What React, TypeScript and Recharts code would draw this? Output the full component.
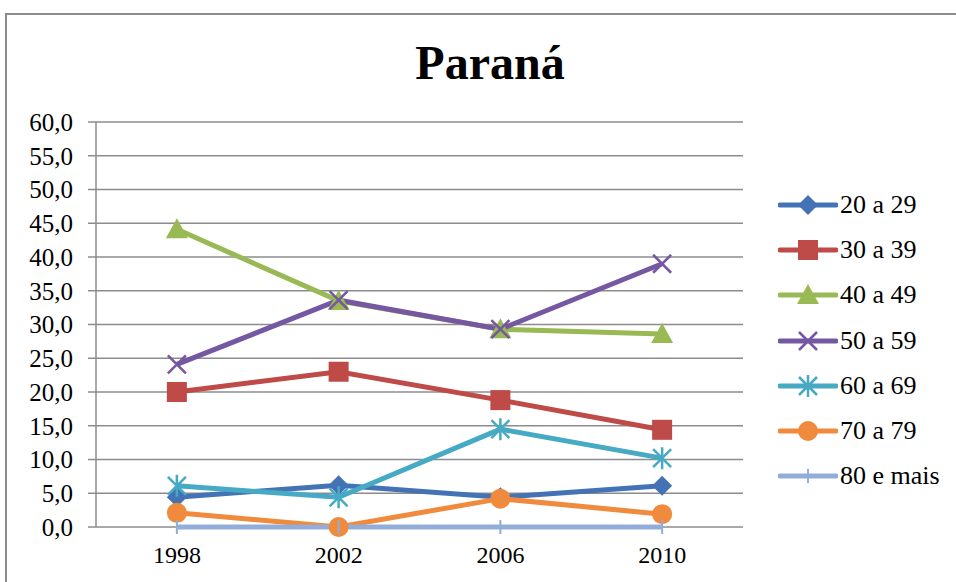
import { LineChart, Line, XAxis, YAxis, CartesianGrid, Legend } from 'recharts';

const years = ['1998', '2002', '2006', '2010'];
const positions = [0.5, 1.5, 2.5, 3.5];
const yTicks = [0, 5, 10, 15, 20, 25, 30, 35, 40, 45, 50, 55, 60];

const s20a29 = [4.4, 6.2, 4.4, 6.1];
const s30a39 = [20.0, 23.0, 18.8, 14.4];
const s40a49 = [44.1, 33.5, 29.3, 28.6];
const s50a59 = [24.1, 33.6, 29.3, 39.0];
const s60a69 = [6.1, 4.4, 14.5, 10.2];
const s70a79 = [2.1, 0.0, 4.2, 1.9];
const s80mais = [0.0, 0.0, 0.0, 0.0];

const series = [
  { key: 'a', name: '20 a 29', values: s20a29, color: '#4372B5', shape: 'diamond' },
  { key: 'b', name: '30 a 39', values: s30a39, color: '#BE4B48', shape: 'square' },
  { key: 'c', name: '40 a 49', values: s40a49, color: '#98B954', shape: 'triangle' },
  { key: 'd', name: '50 a 59', values: s50a59, color: '#7657A2', shape: 'x' },
  { key: 'e', name: '60 a 69', values: s60a69, color: '#46AAC4', shape: 'star' },
  { key: 'f', name: '70 a 79', values: s70a79, color: '#F08A3C', shape: 'circle' },
  { key: 'g', name: '80 e mais', values: s80mais, color: '#93ADDA', shape: 'bar' },
];

const data = years.map((year, i) => {
  const row: Record<string, number | string> = { year, pos: positions[i] };
  series.forEach((s) => {
    row[s.key] = s.values[i];
  });
  return row;
});

const FONT = 'Liberation Serif, Times New Roman, serif';

const Marker = ({ shape, color, cx, cy }: { shape: string; color: string; cx: number; cy: number }) => {
  switch (shape) {
    case 'diamond':
      return <path d={`M${cx},${cy - 10} L${cx + 10},${cy} L${cx},${cy + 10} L${cx - 10},${cy} Z`} fill={color} />;
    case 'square':
      return <rect x={cx - 10} y={cy - 10} width={20} height={20} fill={color} />;
    case 'triangle':
      return <path d={`M${cx},${cy - 11} L${cx + 11},${cy + 9} L${cx - 11},${cy + 9} Z`} fill={color} />;
    case 'x':
      return (
        <path
          d={`M${cx - 9},${cy - 9} L${cx + 9},${cy + 9} M${cx - 9},${cy + 9} L${cx + 9},${cy - 9}`}
          stroke={color}
          strokeWidth={2.5}
        />
      );
    case 'star':
      return (
        <path
          d={`M${cx - 9},${cy - 9} L${cx + 9},${cy + 9} M${cx - 9},${cy + 9} L${cx + 9},${cy - 9} M${cx},${cy - 11} L${cx},${cy + 11}`}
          stroke={color}
          strokeWidth={2.5}
        />
      );
    case 'circle':
      return <circle cx={cx} cy={cy} r={10} fill={color} />;
    default:
      return <path d={`M${cx},${cy - 7} L${cx},${cy + 7}`} stroke={color} strokeWidth={2} />;
  }
};

const makeDot = (shape: string, color: string) => (props: any) => (
  <g key={`${shape}-${props.index}`}>
    <Marker shape={shape} color={color} cx={props.cx} cy={props.cy} />
  </g>
);

const LegendContent = (props: any) => {
  const payload = props.payload || [];
  return (
    <div style={{ fontFamily: FONT, fontSize: 26, color: '#000' }}>
      {payload.map((p: any) => {
        const s = series.find((x) => x.key === p.dataKey) || series[0];
        return (
          <div key={s.key} style={{ display: 'flex', alignItems: 'center', height: 45.3 }}>
            <svg width={60} height={24} style={{ marginRight: 2 }}>
              <line x1={2} y1={12} x2={58} y2={12} stroke={s.color} strokeWidth={5} strokeLinecap="round" />
              <Marker shape={s.shape} color={s.color} cx={30} cy={12} />
            </svg>
            <span style={{ lineHeight: 1, fontFamily: FONT }}>{s.name}</span>
          </div>
        );
      })}
    </div>
  );
};

export default function App() {
  return (
    <div
      style={{
        position: 'fixed',
        left: 0,
        top: 0,
        width: 956,
        height: 582,
        background: '#fff',
        overflow: 'hidden',
        fontFamily: FONT,
      }}
    >
      <div
        style={{
          position: 'absolute',
          left: 5,
          top: 13,
          width: 1000,
          height: 700,
          border: '2px solid #8c8c8c',
        }}
      />
      <div
        style={{
          position: 'absolute',
          left: 0,
          top: 34,
          width: 980,
          textAlign: 'center',
          fontWeight: 'bold',
          fontSize: 48,
          lineHeight: '58px',
          color: '#000',
        }}
      >
        Paraná
      </div>
      <div style={{ position: 'absolute', left: 0, top: 0 }}>
        <LineChart
          width={956}
          height={582}
          data={data}
          margin={{ top: 122, right: 35, left: 16, bottom: 15 }}
          style={{ fontFamily: FONT }}
        >
          <CartesianGrid xAxisId="yr" vertical={false} stroke="#8c8c8c" strokeWidth={1.5} />
          <XAxis
            xAxisId="grid"
            type="number"
            dataKey="pos"
            domain={[0, 4]}
            ticks={[0, 1, 2, 3, 4]}
            tickFormatter={() => ''}
            height={0}
            tickSize={7}
            stroke="#8c8c8c"
            axisLine={{ stroke: '#8c8c8c', strokeWidth: 1.5 }}
            tickLine={{ stroke: '#8c8c8c', strokeWidth: 1.5 }}
          />
          <XAxis
            xAxisId="yr"
            type="number"
            dataKey="pos"
            domain={[0, 4]}
            ticks={positions}
            tickFormatter={(v: number) => years[positions.indexOf(v)] ?? ''}
            height={40}
            axisLine={false}
            tickLine={false}
            tickSize={0}
            tickMargin={19}
            tick={{ fill: '#000', fontFamily: FONT, fontSize: 24 }}
          />
          <YAxis
            width={80}
            domain={[0, 60]}
            ticks={yTicks}
            interval={0}
            tickFormatter={(v: number) => v.toFixed(1).replace('.', ',')}
            tickSize={8}
            tickMargin={15}
            axisLine={{ stroke: '#8c8c8c', strokeWidth: 1.5 }}
            tickLine={{ stroke: '#8c8c8c', strokeWidth: 1.5 }}
            tick={{ fill: '#000', fontFamily: FONT, fontSize: 25 }}
          />
          <Legend
            layout="vertical"
            align="right"
            verticalAlign="top"
            content={LegendContent}
            wrapperStyle={{ position: 'absolute', left: 778, top: 182, width: 178 }}
          />
          {series.map((s) => (
            <Line
              key={s.key}
              xAxisId="yr"
              type="linear"
              dataKey={s.key}
              name={s.name}
              stroke={s.color}
              strokeWidth={5}
              dot={makeDot(s.shape, s.color)}
              activeDot={false}
              isAnimationActive={false}
            />
          ))}
        </LineChart>
      </div>
    </div>
  );
}
